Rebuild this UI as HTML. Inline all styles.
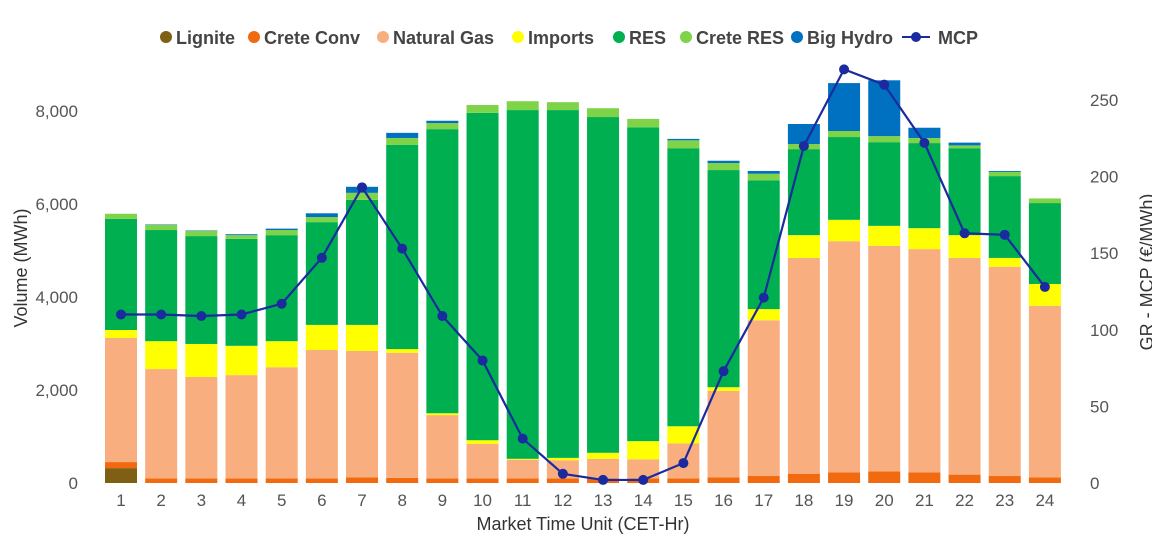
<!DOCTYPE html>
<html><head><meta charset="utf-8"><style>
html,body{margin:0;padding:0;background:#fff;width:1152px;height:534px;overflow:hidden}
text{font-family:"Liberation Sans",sans-serif}
</style></head><body>
<svg id="s" width="1152" height="534" xmlns="http://www.w3.org/2000/svg"></svg>
<script>
const s=document.getElementById('s');
let h='';
const colors=['#7F5F13','#F26A0F','#F9AE80','#FFFF00','#00B050','#7ED348','#0070C0'];
const d=[
[320,450,3120,3290,5680,5790,5790],
[0,100,2450,3050,5440,5550,5560],
[0,100,2280,2990,5310,5420,5430],
[0,100,2320,2950,5250,5330,5350],
[0,100,2490,3050,5330,5440,5470],
[0,100,2860,3400,5610,5720,5800],
[0,120,2840,3400,6090,6240,6370],
[0,110,2800,2880,7270,7420,7530],
[0,100,1460,1500,7610,7740,7790],
[0,100,840,920,7960,8130,8130],
[0,100,500,520,8020,8210,8210],
[0,100,490,540,8020,8190,8190],
[0,100,520,650,7870,8060,8060],
[0,100,510,900,7650,7830,7830],
[0,100,850,1220,7200,7370,7400],
[0,120,1980,2060,6730,6880,6930],
[0,150,3500,3740,6510,6650,6710],
[0,200,4840,5330,7180,7290,7720],
[0,230,5200,5660,7440,7570,8600],
[0,250,5100,5530,7330,7460,8660],
[0,230,5030,5480,7310,7420,7640],
[0,180,4840,5330,7200,7260,7320],
[0,150,4650,4840,6600,6690,6710],
[0,120,3810,4280,6020,6120,6120]];
const mcp=[110,110,109,110,117,147,193,153,109,80,29,6,2,2,13,73,121,220,270,260,222,163,162,128];
const y0=483,ky=0.0465,kr=76.6/50,X=i=>121+i*40.17,bw=32;
d.forEach((r,i)=>{let prev=0;r.forEach((v,j)=>{if(v>prev){h+=`<rect x="${X(i)-bw/2}" y="${y0-v*ky}" width="${bw}" height="${(v-prev)*ky}" fill="${colors[j]}"/>`;prev=v;}});
h+=`<text x="${X(i)}" y="506" font-size="17" fill="#555" text-anchor="middle">${i+1}</text>`;});
let p=mcp.map((v,i)=>`${X(i)},${y0-v*kr}`).join(' ');
h+=`<polyline points="${p}" fill="none" stroke="#1B2A9E" stroke-width="2.2"/>`;
mcp.forEach((v,i)=>h+=`<circle cx="${X(i)}" cy="${y0-v*kr}" r="5" fill="#1B2A9E"/>`);
['0','2,000','4,000','6,000','8,000'].forEach((t,i)=>h+=`<text x="78" y="${y0-i*93+6}" font-size="17" fill="#555" text-anchor="end">${t}</text>`);
[0,50,100,150,200,250].forEach((t,i)=>h+=`<text x="1090" y="${y0-i*76.6+6}" font-size="17" fill="#555">${t}</text>`);
h+=`<text transform="translate(27,268) rotate(-90)" font-size="18" fill="#333" text-anchor="middle">Volume (MWh)</text>`;
h+=`<text transform="translate(1153,272) rotate(-90)" font-size="18" fill="#333" text-anchor="middle">GR - MCP (€/MWh)</text>`;
h+=`<text x="583" y="530" font-size="18" fill="#333" text-anchor="middle">Market Time Unit (CET-Hr)</text>`;
const leg=[['Lignite',166,colors[0]],['Crete Conv',254,colors[1]],['Natural Gas',383,colors[2]],['Imports',518,colors[3]],['RES',619,colors[4]],['Crete RES',686,colors[5]],['Big Hydro',797,colors[6]]];
leg.forEach(([t,x,c])=>{h+=`<circle cx="${x}" cy="37" r="6" fill="${c}"/><text x="${x+10}" y="44" font-size="18" font-weight="bold" fill="#444">${t}</text>`;});
h+=`<line x1="902" y1="37" x2="930" y2="37" stroke="#1B2A9E" stroke-width="2"/><circle cx="916" cy="37" r="5" fill="#1B2A9E"/><text x="938" y="44" font-size="18" font-weight="bold" fill="#444">MCP</text>`;
s.innerHTML=h;
</script>
</body></html>
